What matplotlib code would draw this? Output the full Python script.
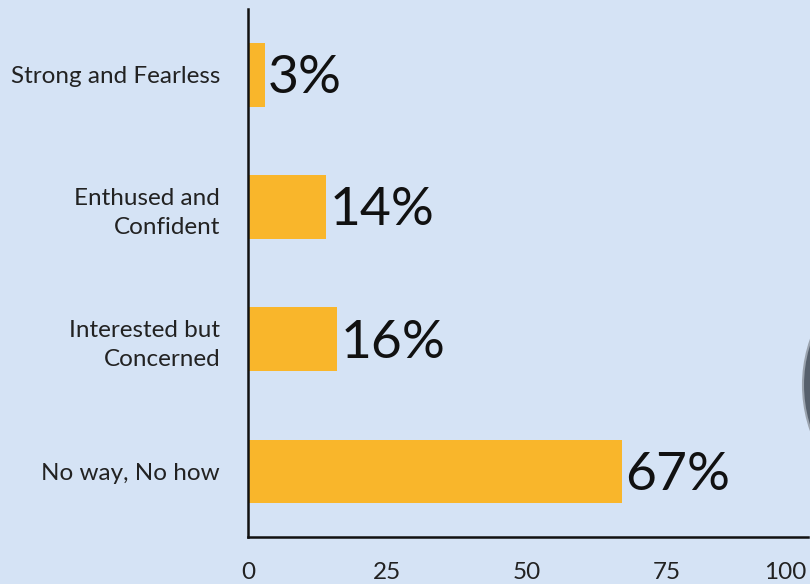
import matplotlib.pyplot as plt
from matplotlib.patches import Circle

plt.rcParams['font.family'] = ['Lato', 'DejaVu Sans']

categories = ['No way, No how', 'Interested but\nConcerned', 'Enthused and\nConfident', 'Strong and Fearless']
shares = [67, 16, 14, 3]
xticks = [0, 25, 50, 75, 100]

bg = '#d5e3f5'
bar_color = '#f9b62b'

fig = plt.figure(figsize=(8.1, 5.84), dpi=100, facecolor=bg)
ax = fig.add_axes([0.306, 0.080, 0.692, 0.905], facecolor=bg)

ypos = range(len(categories))
ax.barh(ypos, shares, height=0.48, color=bar_color, zorder=2)

for y, v in zip(ypos, shares):
    ax.text(v + 0.6, y - 0.03, f'{v}%', va='center', ha='left', fontsize=38.5,
            color='#111111')

ax.set_xlim(0, 100.4)
ax.set_ylim(-0.5, 3.5)
ax.set_yticks(list(ypos))
ax.set_yticklabels(categories, fontsize=17.5, color='#222222', linespacing=1.45)
ax.set_xticks(xticks)
ax.set_xticklabels([str(t) for t in xticks], fontsize=17.5, color='#222222')
ax.get_xticklabels()[-1].set_horizontalalignment('right')
ax.tick_params(axis='y', length=0, pad=20)
ax.tick_params(axis='x', length=0, pad=18)

for side in ['top', 'right']:
    ax.spines[side].set_visible(False)
for side in ['left', 'bottom']:
    ax.spines[side].set_linewidth(1.8)
    ax.spines[side].set_color('#111111')

# dark disc peeking in at the right edge
disc = Circle((1063 / 810, 1 - 385 / 584), 260 / 810, transform=fig.transFigure,
              facecolor='#56606c', edgecolor='#9aa3ae', linewidth=1.5, zorder=0)
fig.patches.append(disc)

fig.savefig('out.png', dpi=100, facecolor=bg)
